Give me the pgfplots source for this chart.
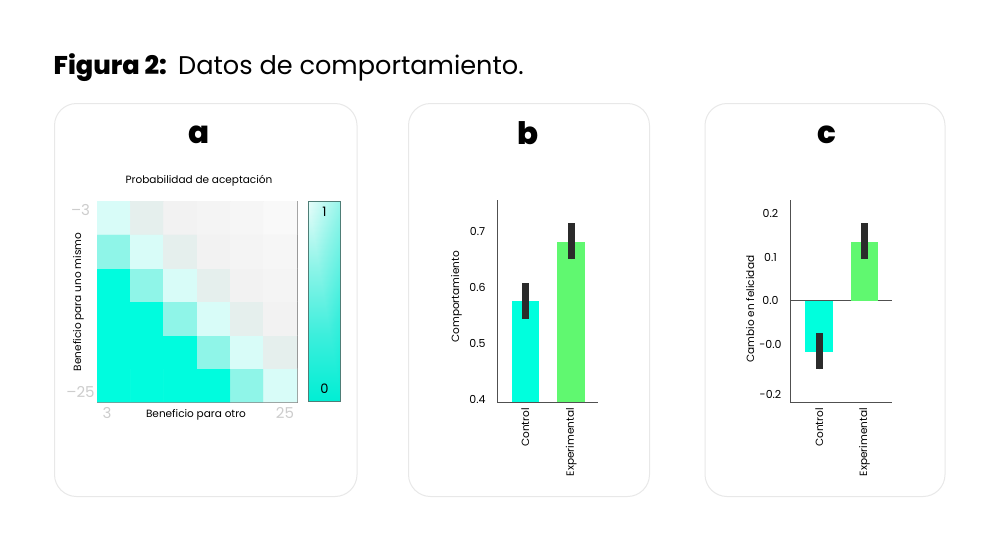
\documentclass[border=0pt]{standalone}
\usepackage{fontspec}
\setmainfont{Poppins}
\newfontfamily\xb{Poppins ExtraBold}
\usepackage{pgfplots}
\pgfplotsset{compat=1.18}
\definecolor{cyanbar}{RGB}{0,255,221}
\definecolor{greenbar}{RGB}{96,248,112}
\definecolor{errc}{RGB}{43,43,43}
\definecolor{axc}{RGB}{80,80,80}
\definecolor{panelc}{RGB}{232,232,232}
\definecolor{cbborder}{RGB}{78,125,118}
\definecolor{tickgray}{RGB}{205,205,205}
\definecolor{hmborder}{RGB}{140,140,140}
\newcommand\lbl{\fontsize{10.5pt}{12pt}\selectfont}
\newcommand\tkl{\fontsize{11pt}{12pt}\selectfont}
\pgfplotsset{
  barax/.style={scale only axis, anchor=south west, height=202pt,
    axis x line*=bottom, axis y line*=left,
    axis line style={draw=axc, line width=0.8pt},
    major tick length=0pt, xtick={0,1}, xticklabels={Control,Experimental},
    xticklabel style={rotate=90, anchor=east, inner xsep=6pt, inner ysep=0pt, font=\lbl},
    yticklabel style={anchor=center, inner sep=0pt, xshift=-19.5pt, font=\tkl},
    ylabel style={anchor=base, font=\lbl}},
  errbar/.style={ybar, bar width=27.5pt, bar shift=0pt, draw=none,
    error bars/.cd, y dir=both, y explicit,
    error bar style={line width=7pt, color=errc}, error mark=none, /pgfplots/.cd}
}
\begin{document}
\begin{tikzpicture}
\useasboundingbox (0pt,0pt) rectangle (1000pt,-536pt);
\fill[white] (0pt,0pt) rectangle (1000pt,-536pt);
% title
\node[anchor=base west, inner sep=0pt, font=\fontsize{25.6pt}{27pt}\selectfont\xb] at (53.5pt,-74.5pt) {Figura 2:};
\node[anchor=base west, inner sep=0pt, font=\fontsize{25.6pt}{27pt}\selectfont] at (178pt,-74.5pt) {Datos de comportamiento.};
% panels
\draw[panelc, line width=1pt, rounded corners=22pt] (54.5pt,-103.5pt) rectangle (357pt,-496.5pt);
\draw[panelc, line width=1pt, rounded corners=22pt] (408.5pt,-103.5pt) rectangle (649.5pt,-496.5pt);
\draw[panelc, line width=1pt, rounded corners=22pt] (705pt,-103.5pt) rectangle (945pt,-496.5pt);
\node[anchor=base, inner sep=0pt, font=\fontsize{31pt}{31pt}\selectfont\xb] at (199.3pt,-143.5pt) {a};
\node[anchor=base, inner sep=0pt, font=\fontsize{31pt}{31pt}\selectfont\xb] at (528.3pt,-144pt) {b};
\node[anchor=base, inner sep=0pt, font=\fontsize{31pt}{31pt}\selectfont\xb] at (826.7pt,-143.5pt) {c};

% heatmap
\begin{axis}[at={(97pt,-402pt)}, anchor=south west, scale only axis,
  width=200pt, height=201pt,
  xmin=-0.5, xmax=5.5, ymin=-0.5, ymax=5.5,
  axis line style={draw=hmborder, line width=0.8pt},
  major tick length=0pt,
  xtick={-0.2,5.14}, xticklabels={3,25},
  ytick={-0.2,5.23}, yticklabels={–25,–3},
  xticklabel style={anchor=center, inner sep=0pt, yshift=-11pt, text=tickgray, font=\fontsize{15pt}{15pt}\selectfont},
  yticklabel style={anchor=center, inner sep=0pt, xshift=-16.5pt, text=tickgray, font=\fontsize{15pt}{15pt}\selectfont},
  colormap={hm}{rgb255(0cm)=(250,250,250) rgb255(1.5cm)=(246,246,246) rgb255(4cm)=(242,242,242) rgb255(8cm)=(229,239,237) rgb255(20cm)=(216,252,248) rgb255(50cm)=(143,245,232) rgb255(100cm)=(0,252,222)},
  point meta min=0, point meta max=1,
  title={Probabilidad de aceptación},
  title style={at={(axis description cs:0.51,1)}, anchor=base, inner sep=0pt, yshift=12pt, font=\lbl},
  xlabel={Beneficio para otro},
  xlabel style={at={(axis description cs:0.495,0)}, anchor=base, inner sep=0pt, yshift=-15pt, font=\lbl},
  ylabel={Beneficio para uno mismo},
  ylabel style={at={(axis description cs:-0.08,0.4975)}, anchor=base, inner sep=0pt, font=\lbl},
]
\addplot[matrix plot*, point meta=explicit, mesh/cols=6] table[meta=c] {
x y c
0 0 1
1 0 1
2 0 1
3 0 1
4 0 0.5
5 0 0.2
0 1 1
1 1 1
2 1 1
3 1 0.5
4 1 0.2
5 1 0.08
0 2 1
1 2 1
2 2 0.5
3 2 0.2
4 2 0.08
5 2 0.04
0 3 1
1 3 0.5
2 3 0.2
3 3 0.08
4 3 0.04
5 3 0.025
0 4 0.5
1 4 0.2
2 4 0.08
3 4 0.04
4 4 0.025
5 4 0.015
0 5 0.2
1 5 0.08
2 5 0.04
3 5 0.025
4 5 0.015
5 5 0.005
};
\end{axis}

% colorbar
\begin{axis}[at={(308.3pt,-401.7pt)}, anchor=south west, scale only axis,
  width=32.4pt, height=200.7pt, view={0}{90},
  xmin=0, xmax=1, ymin=0, ymax=1, ticks=none,
  axis line style={draw=cbborder, line width=0.8pt},
  colormap={cb}{rgb255=(0,238,212) rgb255=(60,238,220) rgb255=(140,244,232) rgb255=(232,253,250)},
  point meta min=0, point meta max=1]
\addplot3[surf, shader=interp, mesh/rows=2] table {
x y z
0 0 0
1 0 0
0 1 1
1 1 0.7
};
\node[font=\fontsize{13pt}{13pt}\selectfont] at (axis cs:0.5,0.945) {1};
\node[font=\fontsize{13pt}{13pt}\selectfont] at (axis cs:0.5,0.067) {0};
\end{axis}

% panel b
\begin{axis}[barax, at={(497pt,-402pt)}, width=101pt,
  xmin=-0.617, xmax=1.584, ymin=0.3964, ymax=0.7552,
  ytick={0.4,0.5,0.6,0.7}, yticklabels={0.4,0.5,0.6,0.7},
  ylabel={Comportamiento},
  ylabel style={at={(axis description cs:-0.376,0.521)}}]
\addplot[fill=cyanbar, errbar] coordinates {(0,0.575) += (0,0.032) -= (0,0.031)};
\addplot[fill=greenbar, errbar] coordinates {(1,0.681) += (0,0.033) -= (0,0.031)};
\end{axis}

% panel c
\begin{axis}[barax, at={(790pt,-402pt)}, width=102pt,
  xmin=-0.645, xmax=1.607, ymin=-0.2318, ymax=0.2304,
  ytick={-0.214,-0.1,0,0.1,0.2}, yticklabels={-0.2,-0.0,0.0,0.1,0.2},
  ylabel={Cambio en felicidad},
  ylabel style={at={(axis description cs:-0.353,0.46)}}]
\addplot[axc, line width=0.8pt, forget plot] coordinates {(-0.645,0) (1.607,0)};
\addplot[fill=cyanbar, errbar] coordinates {(0,-0.1167) += (0,0.0421) -= (0,0.0403)};
\addplot[fill=greenbar, errbar] coordinates {(1,0.135) += (0,0.042) -= (0,0.0396)};
\end{axis}
\end{tikzpicture}
\end{document}
